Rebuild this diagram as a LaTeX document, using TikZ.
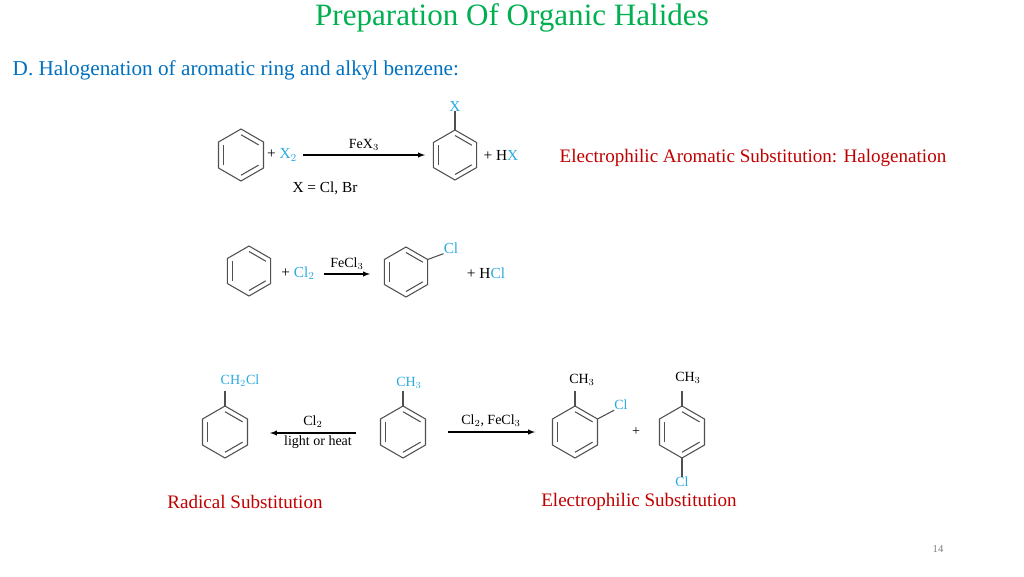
\documentclass[tikz,border=0pt]{standalone}
\usepackage{fontspec}
\setmainfont{Liberation Serif}
\definecolor{tgreen}{RGB}{0,176,80}
\definecolor{tblue}{RGB}{0,112,192}
\definecolor{tred}{RGB}{192,0,0}
\definecolor{cblue}{RGB}{41,171,226}
\definecolor{bgray}{RGB}{80,80,80}
\newcommand{\benz}[4]{% cx cy r name
  \foreach \i in {0,...,5}{\coordinate (#4v\i) at ($(#1,#2)+(-90+60*\i:#3)$);}
  \draw[bond] (#4v0)--(#4v1)--(#4v2)--(#4v3)--(#4v4)--(#4v5)--cycle;
  \foreach \i/\j in {0/1,2/3,4/5}{\draw[bond] ($(#1,#2)!0.78!(#4v\i)$) -- ($(#1,#2)!0.78!(#4v\j)$);}
}
\usetikzlibrary{calc}
\begin{document}
\begin{tikzpicture}[x=0.75pt,y=-0.75pt,
  bond/.style={draw=bgray,line width=0.8pt},
  rx/.style={-latex,line width=0.8pt},
  lab/.style={inner sep=0pt,font=\fontsize{10.5}{12}\selectfont},
  chem/.style={inner sep=0pt,font=\fontsize{11.5}{13}\selectfont},
  red/.style={text=tred,font=\fontsize{14.3}{16}\selectfont}]
\useasboundingbox (0,0) rectangle (1024,576);
\node[text=tgreen,font=\fontsize{23.3}{26}\selectfont] (title) at (512,18) {Preparation Of Organic Halides};
\node[text=tblue,anchor=west,font=\fontsize{15.9}{18}\selectfont] (sub) at (8,70) {D. Halogenation of aromatic ring and alkyl benzene:};
% reaction 1
\benz{241}{155}{26}{a}
\node[chem] (p1) at (282,155) {+ \textcolor{cblue}{X$_2$}};
\coordinate (a1s) at (303,155); \coordinate (a1e) at (425,155);
\draw[rx] (a1s) -- (a1e) node[midway,above=3pt,lab] (f1) {FeX$_3$};
\benz{455}{155}{25}{b}
\node[chem,text=cblue] (X) at (455,106) {X};
\draw[bond] (bv0) -- (X);
\node[chem] (hx) at (501,155) {+ H\textcolor{cblue}{X}};
\node[chem] (xeq) at (325,188) {X = Cl, Br};
\node[red] (esa) at (753,158) {Electrophilic Aromatic Substitution: Halogenation};
% reaction 2
\benz{249}{271}{25}{c}
\node[chem] (p2) at (298,273) {+ \textcolor{cblue}{Cl$_2$}};
\coordinate (a2s) at (324,274); \coordinate (a2e) at (370,274);
\draw[rx] (a2s) -- (a2e) node[midway,above=3pt,lab] (f2) {FeCl$_3$};
\benz{406}{272}{25}{d}
\node[chem,text=cblue] (cl2) at (451,248) {Cl};
\draw[bond] (dv1) -- (cl2.south west);
\node[chem] (hcl) at (486,273) {+ H\textcolor{cblue}{Cl}};
% reaction 3
\benz{225}{432}{26}{e}
\node[lab,text=cblue] (ch2cl) at (240,381) {CH$_2$Cl};
\draw[bond] (ev0) -- ($(ev0)+(0,-15)$);
\benz{403}{432}{26}{f}
\node[lab,text=cblue] (ch3a) at (409,383) {CH$_3$};
\draw[bond] (fv0) -- ($(fv0)+(0,-15)$);
\coordinate (a3s) at (356,433); \coordinate (a3e) at (270,433);
\draw[rx] (a3s) -- (a3e);
\node[lab] (cl2b) at (313,422) {Cl$_2$};
\node[lab] (loh) at (318,442) {light or heat};
\coordinate (a4s) at (448,432); \coordinate (a4e) at (535,432);
\draw[rx] (a4s) -- (a4e);
\node[lab] (cfe) at (491,421) {Cl$_2$, FeCl$_3$};
\benz{575}{432}{26}{g}
\node[lab] (ch3b) at (582,380) {CH$_3$};
\draw[bond] (gv0) -- ($(gv0)+(0,-15)$);
\node[lab,text=cblue] (clo) at (621,405) {Cl};
\draw[bond] (gv1) -- (clo.south west);
\node[lab] (plus) at (636,432) {+};
\benz{682}{432}{26}{h}
\node[lab] (ch3c) at (688,378) {CH$_3$};
\draw[bond] (hv0) -- ($(hv0)+(0,-15)$);
\node[lab,text=cblue] (clp) at (682,482) {Cl};
\draw[bond] (hv3) -- (clp.north);
\node[red] (rs) at (245,502) {Radical Substitution};
\node[red] (es) at (639,502) {Electrophilic Substitution};
\node[text=gray,font=\fontsize{8}{10}\selectfont] (pg) at (938,549) {14};
\end{tikzpicture}
\end{document}
